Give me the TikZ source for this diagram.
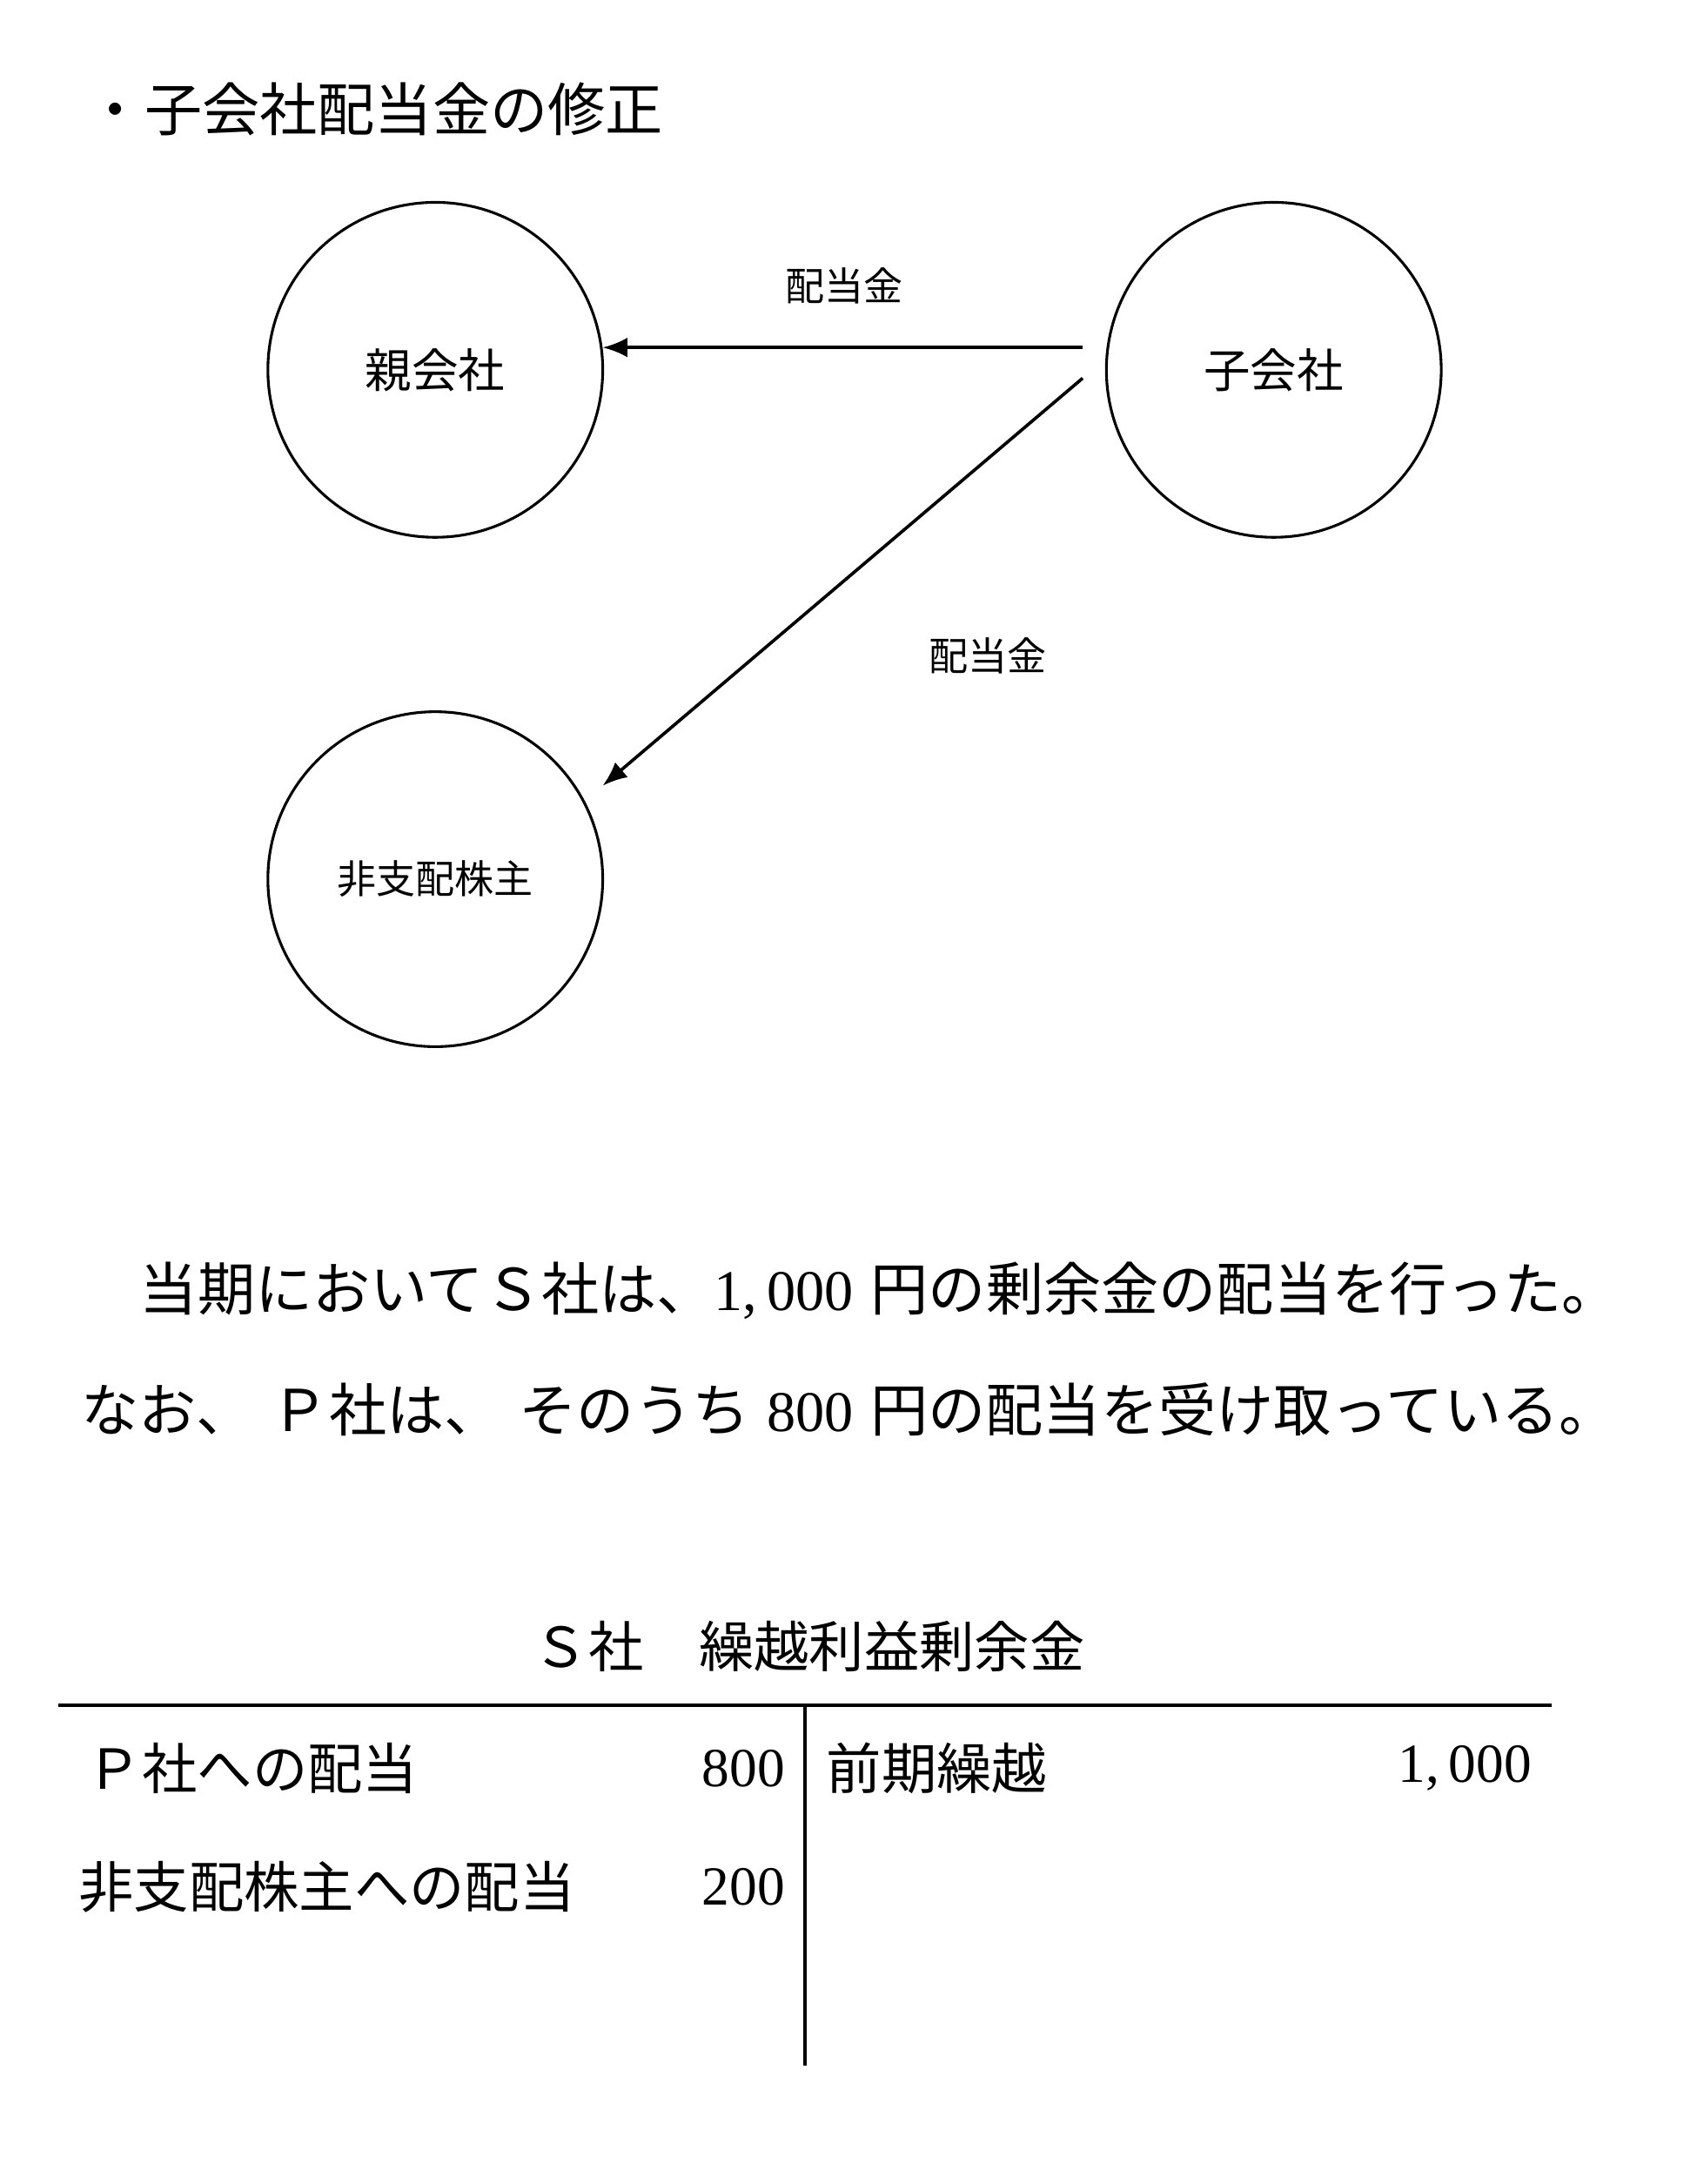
\documentclass[tikz,border=0pt]{standalone}
\usepackage{fontspec}
\setmainfont{Noto Sans CJK JP}
\newfontfamily\lat{Liberation Serif}
\usetikzlibrary{arrows.meta}
\begin{document}
\begin{tikzpicture}[x=0.02cm,y=-0.02cm,
  big/.style={font=\fontsize{22.5pt}{26pt}\selectfont,inner sep=0pt},
  para/.style={font=\fontsize{23.5pt}{27pt}\selectfont,inner sep=0pt},
  mid/.style={font=\fontsize{19pt}{22pt}\selectfont,inner sep=0pt},
  sml/.style={font=\fontsize{16pt}{19pt}\selectfont,inner sep=0pt},
  circ/.style={draw,line width=1.1pt,circle,minimum size=240*0.02cm,inner sep=0pt},
  arr/.style={line width=1.3pt,-{Latex[length=10pt,width=8pt]}}]
\useasboundingbox (0,0) rectangle (1216,1565);
\node[big,anchor=west,font=\fontsize{23.5pt}{27pt}\selectfont] (title) at (62,78) {・子会社配当金の修正};
\node[circ,mid] (p) at (312,265) {親会社};
\node[circ,mid] (s) at (913,265) {子会社};
\node[circ,sml] (n) at (312,630) {非支配株主};
\coordinate (s1) at (776,249);
\coordinate (s2) at (776,271);
\coordinate (p1) at (432,249);
\coordinate (n1) at (432,563);
\draw[arr] (s1) -- (p1);
\draw[arr] (s2) -- (n1);
\node[sml] (l1) at (605,205) {配当金};
\node[sml] (l2) at (708,470) {配当金};
\node[para,anchor=west] (t1) at (100,925) {当期においてＳ社は、{\lat 1,\,000}\hspace{0.3em}円の剰余金の配当を行った。};
\node[para,anchor=west] (t2) at (58,1010) {なお、\hspace{0.3em}Ｐ社は、\hspace{0.3em}そのうち\hspace{0.3em}{\lat 800}\hspace{0.3em}円の配当を受け取っている。};
\node[big] (ta) at (580,1180) {Ｓ社　繰越利益剰余金};
\coordinate (h1) at (42,1222);
\coordinate (h2) at (1112,1222);
\coordinate (v1) at (577,1222);
\coordinate (v2) at (577,1480);
\draw[line width=1.2pt] (h1) -- (h2);
\draw[line width=1.2pt] (v1) -- (v2);
\node[big,anchor=west] (a1) at (62,1267) {Ｐ社への配当};
\node[big,anchor=east] (a2) at (563,1267) {\lat 800};
\node[big,anchor=west] (a3) at (56,1352) {非支配株主への配当};
\node[big,anchor=east] (a4) at (563,1352) {\lat 200};
\node[big,anchor=west] (a5) at (592,1267) {前期繰越};
\node[big,anchor=east] (a6) at (1098,1267) {\lat 1,\,000};
\end{tikzpicture}
\end{document}
